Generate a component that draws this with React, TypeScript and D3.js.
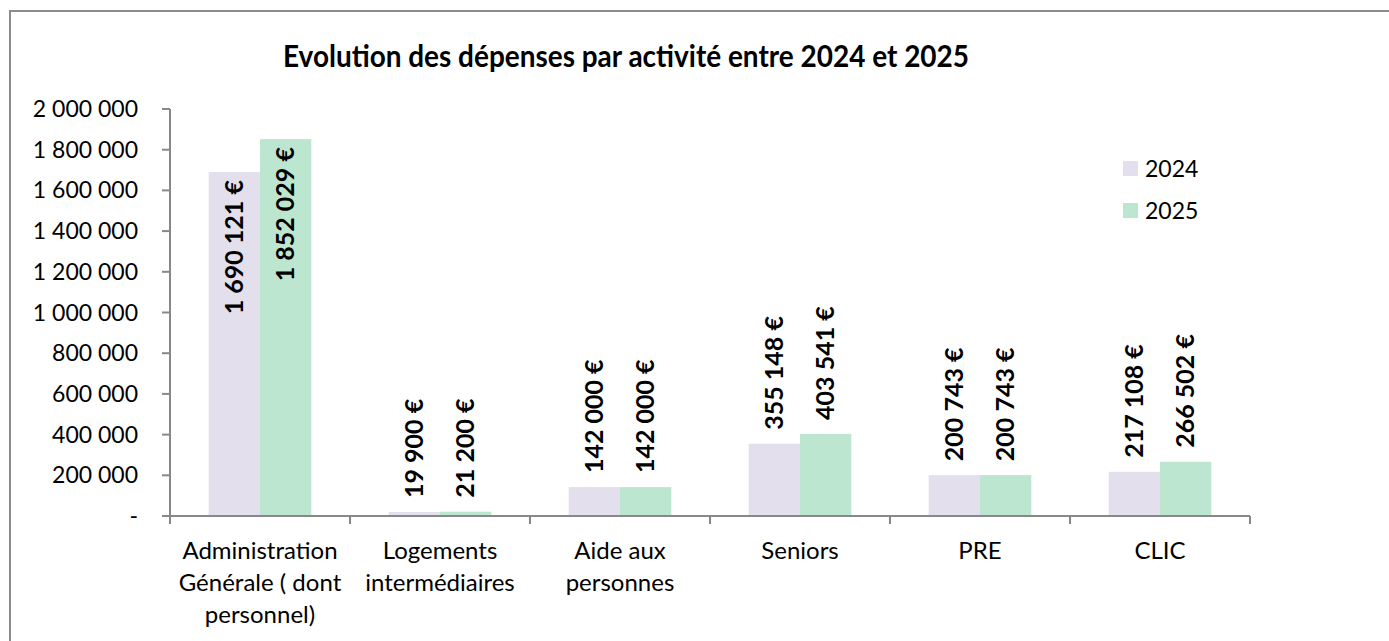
import React from 'react';
import * as d3 from 'd3';

const categories = [
  'Administration Générale ( dont personnel)',
  'Logements intermédiaires',
  'Aide aux personnes',
  'Seniors',
  'PRE',
  'CLIC',
];
const series = ['2024', '2025'];
const values2024 = [1690121, 19900, 142000, 355148, 200743, 217108];
const values2025 = [1852029, 21200, 142000, 403541, 200743, 266502];
const yTicks = [0, 200000, 400000, 600000, 800000, 1000000, 1200000, 1400000, 1600000, 1800000, 2000000];

const colors = ['#e4dfec', '#bde6d0'];
const FONT = 'Lato, Carlito, Calibri, sans-serif';

const fr = d3.formatLocale({ decimal: ',', thousands: ' ', grouping: [3], currency: ['', ' €'] });
const fmtNum = fr.format(',.0f');
const fmtEur = (v: number) => fmtNum(v) + ' €';

// retour à la ligne des libellés de catégorie
function wrap(text: string, maxW: number, font: string): string[] {
  const ctx = document.createElement('canvas').getContext('2d')!;
  ctx.font = font;
  const words = text.split(' ');
  const lines: string[] = [];
  let cur = '';
  words.forEach(w => {
    const test = cur ? cur + ' ' + w : w;
    if (ctx.measureText(test).width <= maxW || !cur) cur = test;
    else {
      lines.push(cur);
      cur = w;
    }
  });
  if (cur) lines.push(cur);
  return lines;
}

export default function App() {
  const width = 1389;
  const height = 641;
  const m = { left: 170, right: 139, top: 109, bottom: 125 };
  const plotW = width - m.left - m.right;
  const plotH = height - m.top - m.bottom;

  const x = d3.scaleBand().domain(categories).range([m.left, m.left + plotW]).paddingInner(0.43).paddingOuter(0.215);
  const step = x.step();
  const x1 = d3.scaleBand().domain(series).range([0, x.bandwidth()]);
  const y = d3.scaleLinear().domain([0, 2000000]).range([m.top + plotH, m.top]);

  const data = categories.map((c, i) => ({ c, vals: [values2024[i], values2025[i]] }));
  const labelFont = `bold 25px ${FONT}`;
  const ctx = document.createElement('canvas').getContext('2d')!;
  ctx.font = labelFont;

  const boundaries = d3.range(categories.length + 1).map(i => m.left + i * step);

  return (
    <svg width={width} height={height} style={{ position: 'absolute', left: 0, top: 0, background: '#fff' }} fontFamily={FONT}>
      <rect x={10} y={11} width={1400} height={700} fill="#fff" stroke="#8c8c8c" strokeWidth={2} />
      <text x={626} y={67} textAnchor="middle" fontSize={31} fontWeight="bold" fill="#000"
        textLength={686} lengthAdjust="spacingAndGlyphs">
        Evolution des dépenses par activité entre 2024 et 2025
      </text>

      {/* barres */}
      {data.map(d => (
        <g key={d.c} transform={`translate(${x(d.c)},0)`}>
          {d.vals.map((v, j) => (
            <rect key={j} x={x1(series[j])} y={y(v)} width={x1.bandwidth()} height={y(0) - y(v)} fill={colors[j]} />
          ))}
        </g>
      ))}

      {/* axes */}
      <line x1={m.left} x2={m.left} y1={y(2000000)} y2={y(0)} stroke="#888" strokeWidth={2} />
      <line x1={m.left} x2={m.left + plotW} y1={y(0)} y2={y(0)} stroke="#888" strokeWidth={2} />
      {yTicks.map(t => (
        <g key={t}>
          <line x1={m.left - 8} x2={m.left} y1={y(t)} y2={y(t)} stroke="#888" strokeWidth={2} />
          <text x={138} y={y(t)} dy="0.35em" textAnchor="end" fontSize={23} fill="#000">
            {t === 0 ? '-' : fmtNum(t)}
          </text>
        </g>
      ))}
      {boundaries.map((bx, i) => (
        <line key={i} x1={bx} x2={bx} y1={y(0)} y2={y(0) + 8} stroke="#888" strokeWidth={2} />
      ))}
      {categories.map(c => {
        const lines = wrap(c, 178, `24px ${FONT}`);
        return (
          <text key={c} x={x(c)! + x.bandwidth() / 2} textAnchor="middle" fontSize={24} fill="#000">
            {lines.map((l, k) => (
              <tspan key={k} x={x(c)! + x.bandwidth() / 2} y={559 + k * 32}>{l}</tspan>
            ))}
          </text>
        );
      })}

      {/* étiquettes de données */}
      {data.map(d =>
        d.vals.map((v, j) => {
          const cx = x(d.c)! + x1(series[j])! + x1.bandwidth() / 2;
          const label = fmtEur(v);
          const len = ctx.measureText(label).width;
          let start = y(v) - 14;
          if (start - len < m.top) start = y(v) + 8 + len;
          return (
            <text key={d.c + j} transform={`translate(${cx + 8.5},${start}) rotate(-90)`} fontSize={25} fontWeight="bold" fill="#000">
              {label}
            </text>
          );
        })
      )}

      {/* légende */}
      {series.map((s, i) => (
        <g key={s} transform={`translate(1123,${161 + i * 42})`}>
          <rect width={15} height={15} fill={colors[i]} />
          <text x={22} y={16} fontSize={23} fill="#000">{s}</text>
        </g>
      ))}
    </svg>
  );
}
